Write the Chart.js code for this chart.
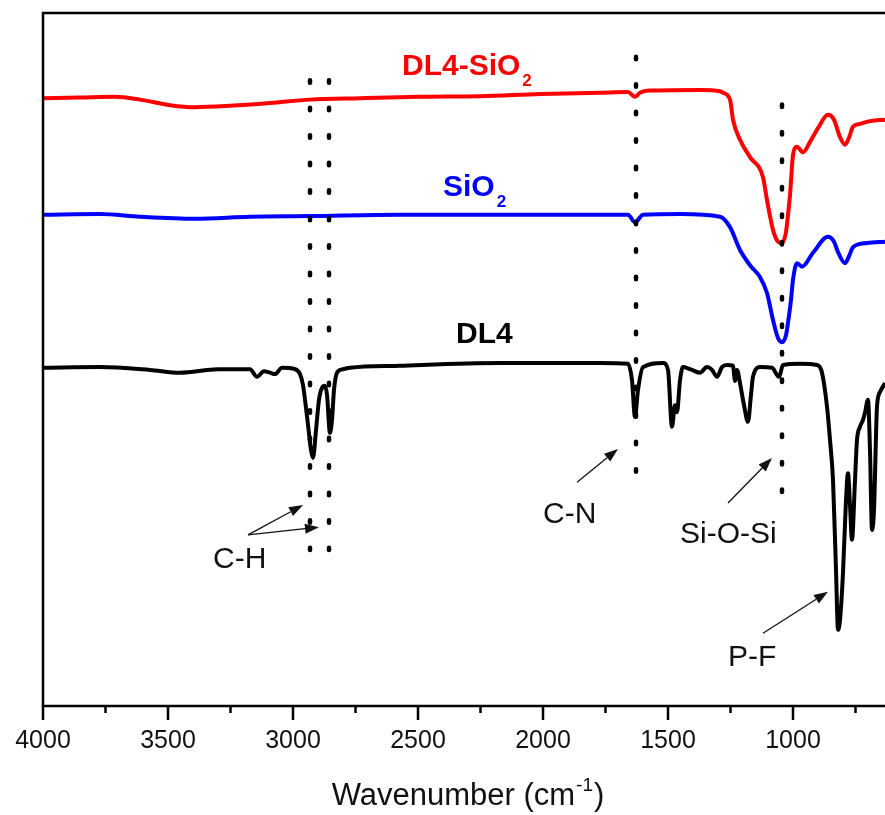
<!DOCTYPE html>
<html>
<head>
<meta charset="utf-8">
<script src="https://cdn.jsdelivr.net/npm/chart.js@4"></script>
<style>
  html, body { margin: 0; padding: 0; background: #fff; overflow: hidden; }
</style>
</head>
<body>
<canvas id="ftir" width="885" height="815"></canvas>
<script>
const FONT = '"Liberation Sans", Arial, sans-serif';

// DL4-SiO2 spectrum (transmittance, offset a.u.)
const hybridWn = [4000, 3852, 3712, 3612, 3492, 3392, 3252, 3092, 2932, 2732,
  2492, 2252, 2012, 1772, 1660, 1632, 1612, 1572, 1372, 1292,
  1280, 1252, 1240, 1212, 1172, 1120, 1104, 1080, 1064, 1044,
  1028, 1020, 1012, 1000, 984, 960, 932, 900, 860, 836,
  812, 792, 776, 760, 732, 692, 632];
const hybridT = [87.7, 87.8, 87.9, 87.5, 86.7, 86.4, 86.6, 87.0, 87.5, 87.7,
  87.9, 88.0, 88.3, 88.5, 88.6, 87.9, 88.5, 88.8, 88.9, 88.7,
  88.5, 87.5, 84.6, 81.7, 79.2, 76.3, 73.0, 68.7, 67.2, 66.8,
  68.4, 70.9, 73.7, 79.5, 80.7, 79.9, 81.4, 83.4, 85.3, 84.6,
  82.1, 81.0, 82.0, 83.6, 84.0, 84.4, 84.6];

// SiO2 spectrum
const silicaWn = [4000, 3772, 3612, 3392, 3172, 2932, 2572, 2172, 1772, 1660,
  1632, 1600, 1452, 1292, 1252, 1212, 1172, 1132, 1104, 1080,
  1060, 1044, 1028, 1020, 1008, 1000, 984, 964, 920, 860,
  836, 820, 792, 776, 760, 704, 632];
const silicaT = [70.9, 71.0, 70.6, 70.3, 70.6, 70.7, 70.9, 70.9, 70.9, 70.9,
  69.8, 70.9, 71.0, 70.6, 69.1, 65.8, 63.6, 61.9, 59.6, 55.7,
  53.1, 52.5, 53.5, 55.3, 58.6, 61.5, 63.9, 63.4, 65.4, 67.7,
  67.0, 65.5, 63.9, 64.9, 66.2, 66.8, 67.0];

// DL4 spectrum
const dl4Wn = [4000, 3772, 3572, 3452, 3300, 3172, 3144, 3116, 3092, 3072,
  3044, 2992, 2972, 2960, 2952, 2940, 2928, 2920, 2908, 2896,
  2884, 2872, 2864, 2852, 2844, 2836, 2824, 2800, 2772, 2572,
  2172, 1772, 1660, 1644, 1632, 1620, 1600, 1520, 1500, 1484,
  1472, 1464, 1452, 1440, 1412, 1372, 1344, 1324, 1304, 1284,
  1264, 1240, 1232, 1224, 1212, 1196, 1180, 1168, 1160, 1132,
  1084, 1056, 1040, 972, 904, 884, 864, 852, 840, 828,
  820, 812, 800, 788, 780, 772, 764, 752, 744, 732,
  720, 712, 700, 692, 684, 676, 664, 652, 632];
const dl4T = [48.8, 48.9, 48.5, 48.1, 48.6, 48.6, 47.5, 48.3, 48.1, 47.9,
  48.8, 48.6, 47.9, 46.3, 44.2, 40.6, 36.9, 35.8, 39.8, 44.2,
  45.9, 46.2, 44.9, 39.4, 41.3, 45.6, 48.1, 48.6, 48.8, 49.1,
  49.5, 49.5, 49.4, 47.0, 41.7, 45.6, 48.9, 49.5, 48.5, 40.3,
  43.4, 42.4, 47.0, 48.9, 48.6, 48.1, 48.9, 48.5, 47.5, 48.9,
  49.2, 49.1, 46.9, 48.5, 46.6, 43.4, 41.0, 44.9, 47.5, 48.9,
  48.8, 47.5, 49.2, 49.4, 49.2, 48.1, 43.2, 38.4, 32.6, 19.6,
  11.0, 12.4, 19.2, 29.7, 33.6, 29.0, 24.0, 32.6, 38.4, 40.3,
  41.3, 42.3, 44.2, 36.9, 25.4, 28.3, 43.2, 45.3, 46.6];

const majorTicks = [4000, 3500, 3000, 2500, 2000, 1500, 1000];
const minorTicks = [3750, 3250, 2750, 2250, 1750, 1250, 750];

// assigned bands marked with dotted guides
const bandWn = [2932, 2856, 1628, 1044];
const bandNames = ['C-H', 'C-N', 'Si-O-Si', 'P-F'];

const toPoints = (wn, t) => wn.map((w, i) => ({ x: w, y: t[i] }));

// guide extents and annotation placement, in axis units
const guides = [
  { wn: bandWn[0], top: 90.3, bottom: 22.5 },
  { wn: bandWn[1], top: 90.3, bottom: 22.5 },
  { wn: bandWn[2], top: 93.7, bottom: 33.8 },
  { wn: bandWn[3], top: 86.8, bottom: 30.6 }
];
const notes = [
  { text: bandNames[0], at: [3320, 19.9], arrows: [[3180, 24.7, 2960, 29.0], [3180, 24.7, 2896, 25.8]] },
  { text: bandNames[1], at: [2000, 26.4], arrows: [[1864, 32.3, 1700, 37.1]] },
  { text: bandNames[2], at: [1452, 23.5], arrows: [[1260, 29.3, 1084, 35.8]] },
  { text: bandNames[3], at: [1260, 5.8], arrows: [[1120, 10.5, 860, 16.5]] }
];
const seriesTags = [
  { text: 'DL4-SiO', sub: '2', at: [2564, 91.0], color: '#ff0000' },
  { text: 'SiO', sub: '2', at: [2400, 73.6], color: '#0000ff' },
  { text: 'DL4', sub: '', at: [2348, 52.4], color: '#000000' }
];

function arrow(ctx, x1, y1, x2, y2) {
  const ang = Math.atan2(y2 - y1, x2 - x1);
  const len = 14, half = 5;
  const bx = x2 - len * Math.cos(ang), by = y2 - len * Math.sin(ang);
  ctx.beginPath();
  ctx.moveTo(x1, y1);
  ctx.lineTo(bx, by);
  ctx.stroke();
  ctx.beginPath();
  ctx.moveTo(x2, y2);
  ctx.lineTo(bx + half * Math.sin(ang), by - half * Math.cos(ang));
  ctx.lineTo(bx - half * Math.sin(ang), by + half * Math.cos(ang));
  ctx.closePath();
  ctx.fill();
}

const decorations = {
  id: 'decorations',
  afterDraw(chart) {
    const { ctx, chartArea: a, scales: { x, y } } = chart;
    const X = v => x.getPixelForValue(v);
    const Y = v => y.getPixelForValue(v);
    ctx.save();

    // dotted band guides
    ctx.strokeStyle = '#000';
    ctx.lineWidth = 4.5;
    ctx.lineCap = 'round';
    ctx.setLineDash([2.5, 25]);
    guides.forEach(g => {
      ctx.beginPath();
      ctx.moveTo(X(g.wn), Y(g.top));
      ctx.lineTo(X(g.wn), Y(g.bottom));
      ctx.stroke();
    });
    ctx.setLineDash([]);
    ctx.lineCap = 'butt';

    // frame
    ctx.lineWidth = 2.5;
    ctx.beginPath();
    ctx.moveTo(a.left, a.bottom + 1);
    ctx.lineTo(a.left, a.top);
    ctx.lineTo(a.right + 2, a.top);
    ctx.moveTo(a.left - 1, a.bottom);
    ctx.lineTo(a.right + 2, a.bottom);
    ctx.stroke();

    // tick marks, pointing out
    ctx.lineWidth = 2.5;
    ctx.beginPath();
    majorTicks.forEach(v => { ctx.moveTo(X(v), a.bottom); ctx.lineTo(X(v), a.bottom + 14); });
    minorTicks.forEach(v => { ctx.moveTo(X(v), a.bottom); ctx.lineTo(X(v), a.bottom + 7); });
    ctx.stroke();

    // band annotations
    ctx.fillStyle = '#111';
    ctx.strokeStyle = '#111';
    ctx.lineWidth = 1.3;
    ctx.font = '30px ' + FONT;
    ctx.textBaseline = 'alphabetic';
    ctx.textAlign = 'left';
    notes.forEach(n => {
      ctx.fillText(n.text, X(n.at[0]), Y(n.at[1]));
      n.arrows.forEach(r => arrow(ctx, X(r[0]), Y(r[1]), X(r[2]), Y(r[3])));
    });

    // series names with subscripts
    seriesTags.forEach(s => {
      ctx.fillStyle = s.color;
      ctx.font = 'bold 30px ' + FONT;
      const x0 = X(s.at[0]), y0 = Y(s.at[1]);
      ctx.fillText(s.text, x0, y0);
      if (s.sub) {
        const w = ctx.measureText(s.text).width;
        ctx.font = 'bold 17px ' + FONT;
        ctx.fillText(s.sub, x0 + w + 2, y0 + 11);
      }
    });

    // axis title with superscript
    ctx.fillStyle = '#111';
    const main = 'Wavenumber (cm', sup = '-1', tail = ')';
    ctx.font = '31px ' + FONT;
    const wMain = ctx.measureText(main).width, wTail = ctx.measureText(tail).width;
    ctx.font = '19px ' + FONT;
    const wSup = ctx.measureText(sup).width;
    let tx = (a.left + a.right) / 2 + 4 - (wMain + wSup + wTail + 2) / 2;
    const ty = 805;
    ctx.font = '31px ' + FONT;
    ctx.fillText(main, tx, ty);
    tx += wMain + 1;
    ctx.font = '19px ' + FONT;
    ctx.fillText(sup, tx, ty - 14);
    tx += wSup + 1;
    ctx.font = '31px ' + FONT;
    ctx.fillText(tail, tx, ty);

    ctx.restore();
  }
};

const line = (label, pts, color) => ({
  label,
  data: pts,
  borderColor: color,
  borderWidth: 4,
  pointRadius: 0,
  fill: false,
  cubicInterpolationMode: 'monotone'
});

new Chart(document.getElementById('ftir'), {
  type: 'line',
  data: {
    datasets: [
      line('DL4-SiO2', toPoints(hybridWn, hybridT), '#ff0000'),
      line('SiO2', toPoints(silicaWn, silicaT), '#0000ff'),
      line('DL4', toPoints(dl4Wn, dl4T), '#000000')
    ]
  },
  options: {
    responsive: false,
    animation: false,
    layout: { padding: { left: 43, top: 13, right: 0, bottom: 0 } },
    plugins: { legend: { display: false }, tooltip: { enabled: false } },
    scales: {
      x: {
        type: 'linear',
        reverse: true,
        min: 632,
        max: 4000,
        afterBuildTicks(scale) {
          scale.ticks = majorTicks.concat(minorTicks).sort((p, q) => p - q).map(v => ({ value: v }));
        },
        afterFit(scale) { scale.height = 109; },
        grid: { display: false, drawTicks: false },
        border: { display: false },
        ticks: {
          autoSkip: false,
          maxRotation: 0,
          padding: 20,
          color: '#111',
          font: { family: FONT, size: 25 },
          callback: v => (majorTicks.includes(v) ? String(v) : '')
        }
      },
      y: { display: false, min: 0, max: 100 }
    }
  },
  plugins: [decorations]
});
</script>
</body>
</html>
